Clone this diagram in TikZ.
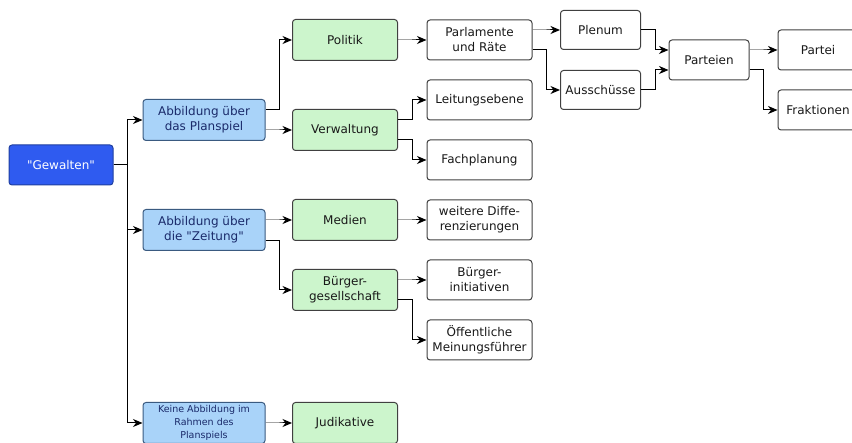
\documentclass[tikz,border=0pt]{standalone}
\usepackage{fontspec}
\setmainfont{DejaVu Sans}[Ligatures=TeXOff]
\usepackage{xcolor}
\usepackage{tikz}
\usetikzlibrary{calc}
\usetikzlibrary{arrows.meta}

\definecolor{gewblue}{HTML}{2F5BF0}
\definecolor{gewline}{HTML}{1F3FA0}
\definecolor{abbblue}{HTML}{A9D3F9}
\definecolor{abbline}{HTML}{3A5A80}
\definecolor{abbtext}{HTML}{1A2A6A}
\definecolor{bergreen}{HTML}{CCF5CC}
\definecolor{boxline}{HTML}{404040}

\tikzset{
  box/.style={draw=boxline, rounded corners=3pt, align=center, inner sep=1pt,
    font=\fontsize{12}{15}\selectfont, text=black!90},
  gewbox/.style={box, fill=gewblue, draw=gewline, text=white,
    minimum width=104pt, minimum height=40pt},
  abbbox/.style={box, fill=abbblue, draw=abbline, text=abbtext,
    minimum width=122pt, minimum height=41pt},
  berbox/.style={box, fill=bergreen, minimum width=105pt, minimum height=41pt},
  detbox/.style={box, fill=white, minimum width=105pt, minimum height=40pt},
  smallbox/.style={box, fill=white, minimum width=80pt, minimum height=39pt},
  arr/.style={->, >={Stealth[length=9.5pt, width=8pt, inset=3pt]}, black}
}

\begin{document}
\begin{tikzpicture}[x=1pt, y=-1pt, line width=1pt]
\def \jog {14} % length of the first horizontal piece of each connector
\useasboundingbox (0,0) rectangle (852,443);

% ebene 0 und 1
\node[gewbox] (gew) at (61,165) {"Gewalten"};
\node[abbbox] (plan) at (204,120) {Abbildung über\\das Planspiel};
\node[abbbox] (zeit) at (204,230) {Abbildung über\\die "Zeitung"};
\node[abbbox, font=\fontsize{9.5}{13}\selectfont] (keine) at (204,423) {Keine Abbildung im\\Rahmen des\\Planspiels};

% ebene 2
\node[berbox] (pol) at (345,40) {Politik};
\node[berbox] (verw) at (345,130) {Verwaltung};
\node[berbox] (med) at (345,220) {Medien};
\node[berbox] (buerg) at (345,290) {Bürger-\\gesellschaft};
\node[berbox] (jud) at (345,423) {Judikative};

% ebene 3
\node[detbox] (parl) at (479.5,40) {Parlamente\\und Räte};
\node[detbox] (leit) at (479.5,100) {Leitungsebene};
\node[detbox] (fach) at (479.5,160) {Fachplanung};
\node[detbox] (weit) at (479.5,220) {weitere Diffe-\\renzierungen};
\node[detbox] (init) at (479.5,280) {Bürger-\\initiativen};
\node[detbox] (oeff) at (479.5,340) {Öffentliche\\Meinungsführer};

% ebene 4 bis 6
\node[smallbox] (plen) at (600.5,30) {Plenum};
\node[smallbox] (aus) at (600.5,90) {Ausschüsse};
\node[smallbox, minimum height=40pt] (part) at (709,60) {Parteien};
\node[smallbox, minimum height=40pt] (partei) at (818,50) {Partei};
\node[smallbox, minimum height=40pt] (frak) at (818,110) {Fraktionen};

% verbindungen: von / versatz / nach / versatz
\foreach \a/\s/\b/\t in {gew/0/plan/0, gew/0/zeit/0, gew/0/keine/0,
    plan/10/pol/0, plan/-10/verw/0, zeit/10/med/0, zeit/-11/buerg/0,
    keine/0/jud/0, pol/0/parl/0, verw/10/leit/0, verw/-10/fach/0,
    med/0/weit/0, buerg/10/init/0, buerg/-10/oeff/0,
    parl/10/plen/0, parl/-10/aus/0, plen/0/part/10, aus/0/part/-10,
    part/10/partei/0, part/-10/frak/0}
{
  \draw[arr] ([yshift=\s pt]\a.east) -- ++(\jog,0) |- ([yshift=\t pt]\b.west);
}
\end{tikzpicture}
\end{document}
